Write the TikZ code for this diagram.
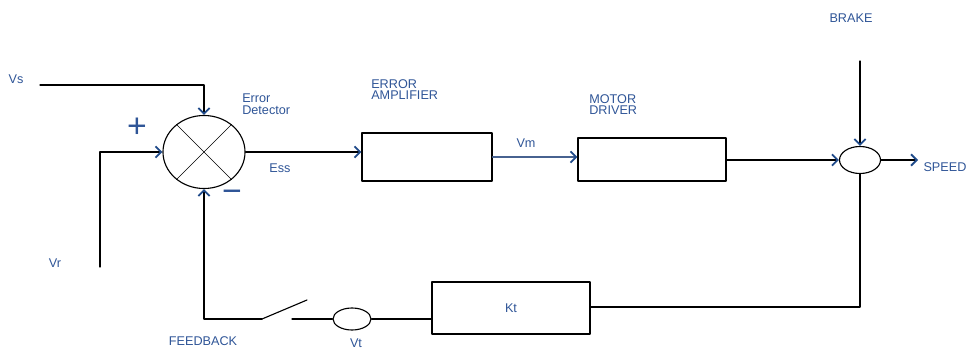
\documentclass[tikz,border=0pt]{standalone}
\usepackage{fontspec}
\setmainfont{Liberation Sans}
\usepackage{tikz}
\usetikzlibrary{arrows.meta,shapes.geometric}

\definecolor{labelblue}{HTML}{2F5597}
\definecolor{tipblue}{HTML}{1F4A8A}

\tikzset{
  lbl/.style={text=labelblue, font=\fontsize{9}{10}\selectfont, inner sep=0pt, align=left},
  blockbox/.style={draw, thick, rectangle, inner sep=0pt},
  sumnode/.style={draw, thick, ellipse, inner sep=0pt},
  sig/.style={thick, -{Straight Barb[length=4pt, width=8pt, line width=1.3pt, color=tipblue]}}
}

\begin{document}
\begin{tikzpicture}[x=0.025cm, y=-0.025cm, line join=round, line cap=round]
  \useasboundingbox (0,0) rectangle (968,349);

  % --- 1. THE FORWARD PATH ---
  % Error detector with its cross
  \node[sumnode, minimum width=2.05cm, minimum height=1.825cm] (det) at (204,152) {};
  \draw (det.45) -- (det.225);
  \draw (det.135) -- (det.-45);

  % Blocks
  \node[blockbox, minimum width=3.25cm, minimum height=1.2cm] (amp) at (427,157) {};
  \node[blockbox, minimum width=3.7cm, minimum height=1.075cm] (drv) at (652,159.5) {};
  \node[blockbox, minimum width=3.95cm, minimum height=1.3cm] (kt) at (511,308) {};

  % Speed junction and tachometer
  \node[sumnode, minimum width=1.025cm, minimum height=0.675cm] (jct) at (860,160) {};
  \node[draw, thick, ellipse, inner sep=0pt, minimum width=0.95cm, minimum height=0.55cm] (vt) at (352,319) {};

  % Free ends
  \coordinate (vsin) at (40,85);
  \coordinate (vrin) at (100,267);
  \coordinate (brkin) at (860,61);
  \coordinate (spdout) at (918,160);
  \coordinate (ktcorner) at (860,307);
  \coordinate (fbcorner) at (204,319);
  \coordinate (swa) at (262,319);
  \coordinate (swb) at (307,300);
  \coordinate (swc) at (292,319);

  % --- 2. CONNECTORS ---
  \draw[sig] (vsin) -| (det.north);
  \draw[sig] (vrin) |- (det.west);
  \draw[sig] (det.east) -- (det.east -| amp.west);
  \draw[sig, draw=labelblue!70!gray] (amp.east) -- (amp.east -| drv.west);
  \draw[sig] (jct.west -| drv.east) -- (jct.west);
  \draw[sig] (brkin) -- (jct.north);
  \draw[sig] (jct.east) -- (spdout);

  % The feedback loop
  \draw[thick] (jct.south) -- (ktcorner) -- (ktcorner -| kt.east);
  \draw[thick] (vt.east) -- (vt.east -| kt.west);
  \draw[thick] (vt.west) -- (swc);
  \draw[thick] (swa) -- (swb);
  \draw[sig] (swa) -- (fbcorner) -- (det.south);

  % --- 3. LABELS ---
  \node[lbl] (vs) at (16,79) {Vs};
  \node[lbl] (vr) at (55,263) {Vr};
  \node[lbl, font=\fontsize{24}{24}\selectfont] (plus) at (137,128) {+};
  \node[lbl, font=\fontsize{24}{24}\selectfont] (minus) at (232,196) {−};
  \node[lbl, anchor=north west] (detlbl) at (242,94) {Error\\[-2pt]Detector};
  \node[lbl] (ess) at (280,168) {Ess};
  \node[lbl, anchor=north west] (amplbl) at (371,79) {ERROR\\[-2pt]AMPLIFIER};
  \node[lbl] (vm) at (526,143) {Vm};
  \node[lbl, anchor=north west] (drvlbl) at (589,94) {MOTOR\\[-2pt]DRIVER};
  \node[lbl] (brk) at (851,18) {BRAKE};
  \node[lbl] (spd) at (945,167) {SPEED};
  \node[lbl] (ktlbl) at (kt) {Kt};
  \node[lbl] (vtlbl) at (356,343) {Vt};
  \node[lbl] (fb) at (203,341) {FEEDBACK};
\end{tikzpicture}
\end{document}
